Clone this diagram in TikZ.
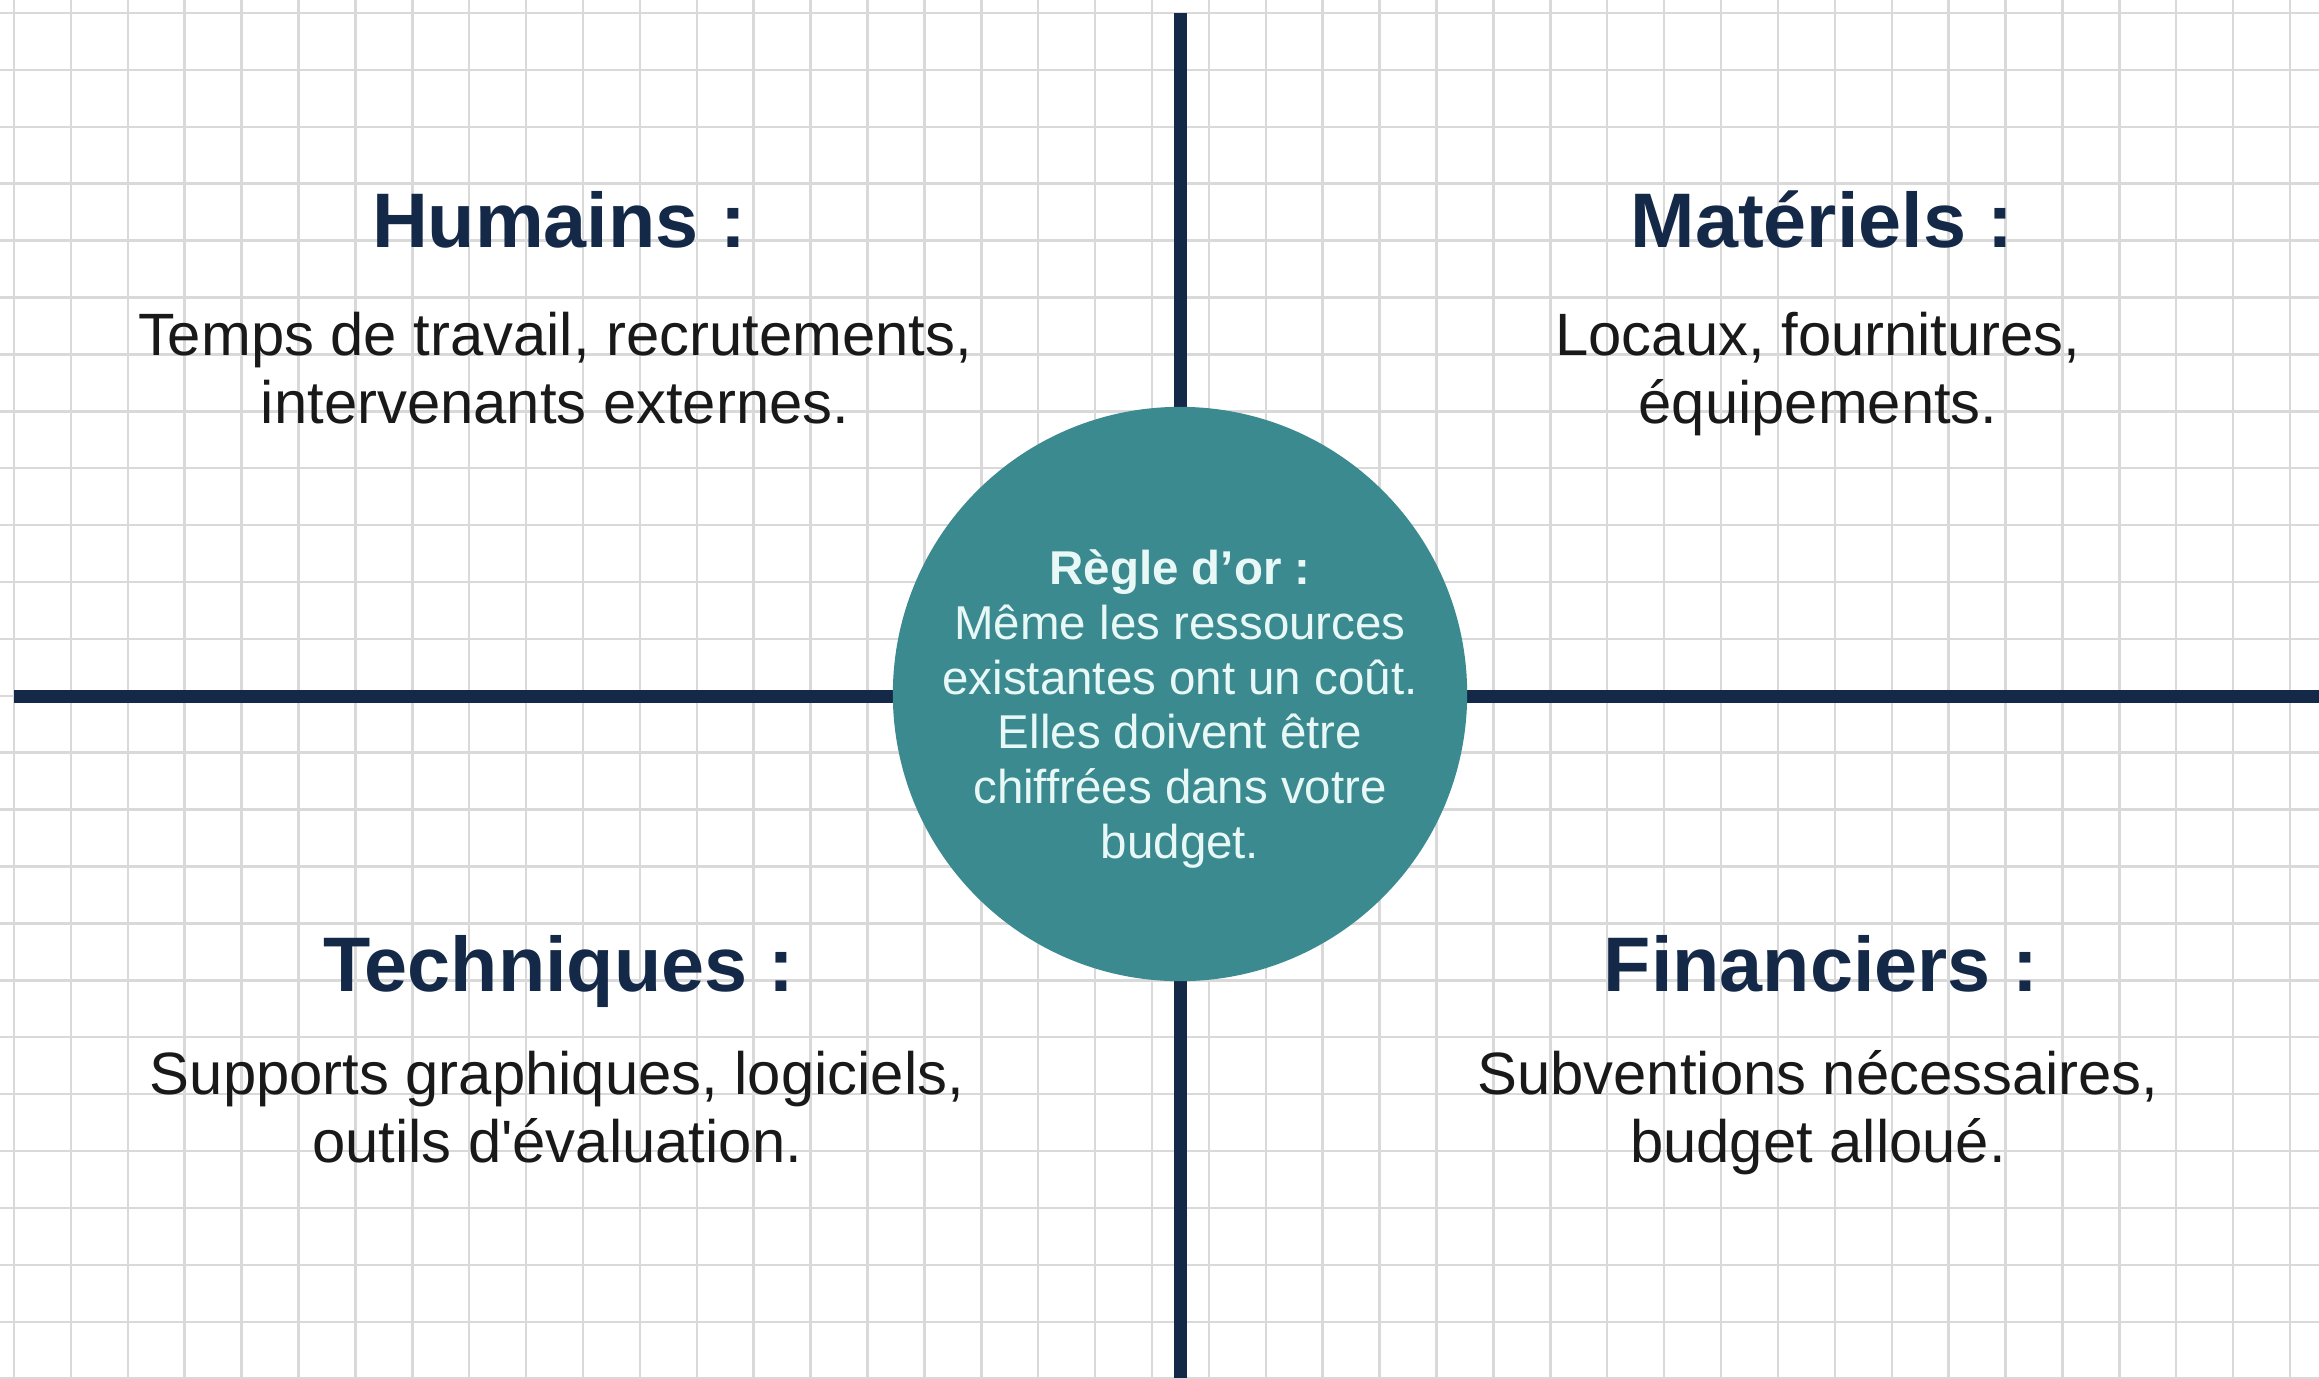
\documentclass[tikz,border=0pt]{standalone}
\usepackage{fontspec}
\setmainfont{Liberation Sans}
\usepackage{xcolor}
\usepackage{tikz}
\definecolor{navy}{RGB}{20,40,72}
\definecolor{tealrule}{RGB}{59,138,144}
\definecolor{paleink}{RGB}{232,248,246}
\tikzset{
    grid_line/.style={draw=black!15, line width=0.7pt},
    cross_line/.style={draw=navy, line width=3.7pt},
    title_text/.style={font=\fontsize{22}{26}\selectfont\bfseries, text=navy, text depth=0pt},
    body_text/.style={font=\fontsize{17}{19.3}\selectfont, text=black!90, align=center},
    rule_circle/.style={circle, fill=tealrule, minimum size=5.74cm, inner sep=0pt},
    rule_text/.style={align=center, text=paleink, font=\fontsize{13.5}{15.6}\selectfont}
}

\begin{document}
\begin{tikzpicture}[x=0.01cm, y=-0.01cm]
    \useasboundingbox[fill=white] (0,0) rectangle (2319,1378);
    % Squared paper
    \foreach \i in {0,...,40}
        \draw[grid_line] (14+\i*56.9,0) -- (14+\i*56.9,1378);
    \foreach \j in {0,...,24}
        \draw[grid_line] (0,13+\j*56.9) -- (2319,13+\j*56.9);
    % Cross
    \coordinate (top) at (1180,13);
    \coordinate (bottom) at (1180,1378);
    \coordinate (left) at (14,696);
    \coordinate (right) at (2319,696);
    \draw[cross_line] (top) -- (bottom);
    \draw[cross_line] (left) -- (right);
    % Quadrants
    \node[title_text] (humains) at (559,219) {Humains :};
    \node[body_text] (humains_txt) at (555,368) {Temps de travail, recrutements,\\intervenants externes.};
    \node[title_text] (materiels) at (1822,219) {Matériels :};
    \node[body_text] (materiels_txt) at (1818,374) {Locaux, fournitures,\\équipements.};
    \node[title_text] (techniques) at (559,963) {Techniques :};
    \node[body_text] (techniques_txt) at (557,1107) {Supports graphiques, logiciels,\\outils d\textquotesingle évaluation.};
    \node[title_text] (financiers) at (1821,963) {Financiers :};
    \node[body_text] (financiers_txt) at (1818,1113) {Subventions nécessaires,\\budget alloué.};
    % Golden rule
    \node[rule_circle] (rule) at (1180,694) {};
    \node[rule_text] (rule_txt) at (1180,709) {\textbf{Règle d’or :}\\Même les ressources\\existantes ont un coût.\\Elles doivent être\\chiffrées dans votre\\budget.};
\end{tikzpicture}
\end{document}
